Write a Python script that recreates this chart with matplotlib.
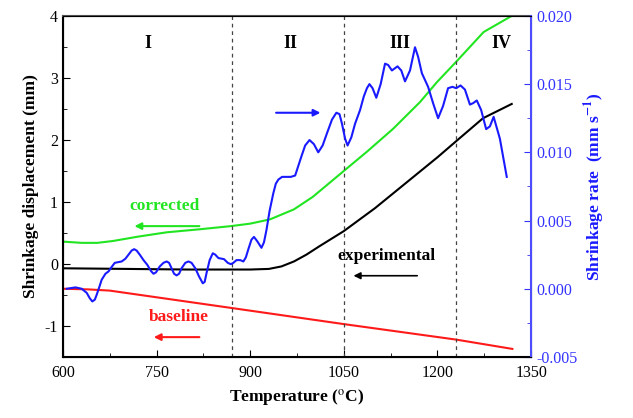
import matplotlib

matplotlib.use("Agg")
import matplotlib.pyplot as plt
from matplotlib.ticker import MultipleLocator, FormatStrFormatter

plt.rcParams["font.family"] = ["Liberation Serif", "DejaVu Serif"]
plt.rcParams["mathtext.fontset"] = "stix"
plt.rcParams["axes.unicode_minus"] = False

# --- data ---
base_T = [600, 640, 675, 870, 1050, 1230, 1320]
base_y = [-0.40, -0.41, -0.43, -0.71, -0.97, -1.22, -1.37]

corr_T = [600, 630, 655, 680, 720, 766, 820, 869, 900, 932, 970, 1000, 1050,
          1087, 1129, 1172, 1199, 1230, 1274, 1319]
corr_y = [0.36, 0.34, 0.34, 0.37, 0.44, 0.51, 0.56, 0.61, 0.65, 0.72, 0.88, 1.08,
          1.50, 1.81, 2.18, 2.61, 2.93, 3.26, 3.74, 4.0]

exp_T = [600, 700, 800, 900, 930, 950, 970, 990, 1010, 1050, 1100, 1150, 1200,
         1230, 1273, 1319]
exp_y = [-0.07, -0.08, -0.09, -0.09, -0.08, -0.04, 0.04, 0.15, 0.28, 0.53, 0.90,
         1.31, 1.72, 1.98, 2.35, 2.58]

rate_T = [606, 620, 630, 638, 643, 647, 651, 654, 658, 662, 668, 673, 678, 683,
          694, 700, 705, 710, 714, 718, 723, 729, 735, 741, 745, 749, 755, 761,
          766, 770, 774, 778, 782, 786, 790, 796, 801, 806, 812, 818, 824, 827,
          830, 835, 840, 844, 849, 858, 864, 869, 873, 878, 884, 889, 893, 897,
          902, 906, 911, 918, 922, 926, 931, 937, 941, 945, 951, 958, 965, 972,
          977, 982, 988, 995, 1002, 1009, 1016, 1023, 1031, 1038, 1043, 1047,
          1052, 1056, 1062, 1068, 1076, 1082, 1087, 1091, 1096, 1102, 1109, 1116,
          1121, 1127, 1136, 1142, 1148, 1156, 1164, 1169, 1175, 1185, 1193, 1201,
          1209, 1217, 1224, 1230, 1237, 1244, 1252, 1257, 1263, 1270, 1278, 1284,
          1290, 1300, 1311]
rate_y = [0.0000, 0.0001, 0.0000, -0.0003, -0.0007, -0.00093, -0.0008, -0.00044,
          0.0001, 0.00066, 0.0011, 0.00127, 0.0016, 0.0019, 0.0020, 0.0022, 0.0025,
          0.0028, 0.0029, 0.0028, 0.0025, 0.0021, 0.00176, 0.0013, 0.0011, 0.0012,
          0.00163, 0.0019, 0.0020, 0.0019, 0.0015, 0.0011, 0.00098, 0.0011, 0.0015,
          0.0019, 0.0020, 0.0019, 0.0015, 0.0009, 0.0004, 0.0005, 0.00115, 0.0021,
          0.0026, 0.0025, 0.00225, 0.00217, 0.0019, 0.0018, 0.0019, 0.0021, 0.0021,
          0.0020, 0.0023, 0.0029, 0.0036, 0.0038, 0.0035, 0.0030, 0.0034, 0.0043,
          0.0057, 0.0070, 0.0077, 0.0080, 0.0082, 0.0082, 0.0082, 0.0083, 0.0090,
          0.0097, 0.0105, 0.0109, 0.0106, 0.0100, 0.0105, 0.0114, 0.0124, 0.0129,
          0.0128, 0.0121, 0.0110, 0.0105, 0.0111, 0.0121, 0.0131, 0.0141, 0.0147,
          0.0150, 0.0147, 0.0140, 0.0150, 0.0165, 0.0164, 0.0160, 0.0163, 0.0160,
          0.0152, 0.0160, 0.0177, 0.0170, 0.0158, 0.0148, 0.0136, 0.0125, 0.0134,
          0.0147, 0.0148, 0.0147, 0.0149, 0.0146, 0.0135, 0.0136, 0.0138, 0.0131,
          0.0117, 0.0119, 0.0126, 0.0110, 0.0082]

stage_bounds = [870, 1050, 1230]
stage_labels = ["I", "II", "III", "IV"]
stage_x = [736, 964, 1140, 1303]

fig = plt.figure(figsize=(6.33, 4.18), dpi=100)
ax = fig.add_axes([0.0995, 0.146, 0.7395, 0.816])

ax.plot(base_T, base_y, color="#ff1a1a", lw=1.5)
ax.plot(corr_T, corr_y, color="#22e522", lw=1.5)
ax.plot(exp_T, exp_y, color="black", lw=1.5)
for t in stage_bounds:
    ax.axvline(t, color="#444444", ls=(0, (3, 3)), lw=0.9)

ax.set_xlim(600, 1350)
ax.set_ylim(-1.5, 4)
ax.xaxis.set_major_locator(MultipleLocator(150))
ax.xaxis.set_minor_locator(MultipleLocator(75))
ax.yaxis.set_major_locator(MultipleLocator(1))
ax.yaxis.set_minor_locator(MultipleLocator(0.5))
ax.tick_params(which="both", direction="in", labelsize=11.5, top=False)
ax.tick_params(which="major", length=5)
ax.tick_params(which="minor", length=3)
ax.tick_params(axis="x", pad=6)
ax.set_xlabel("Temperature ($^{\\rm o}$C)", fontsize=12.5, fontweight="bold")
ax.set_ylabel("Shrinkage displacement (mm)", fontsize=12.5, fontweight="bold")
ax.spines["top"].set_color("#555555")
ax.spines["top"].set_linewidth(1.5)
for s in ("left", "bottom"):
    ax.spines[s].set_linewidth(1.5)

for lab, x in zip(stage_labels, stage_x):
    ax.text(x, 3.55, lab, ha="center", va="center", fontsize=13, fontweight="bold")

ax.text(763, 0.94, "corrected", color="#22e522", ha="center", va="center",
        fontsize=12.5, fontweight="bold")
ax.annotate("", xy=(710, 0.61), xytext=(823, 0.61),
            arrowprops=dict(arrowstyle="-|>", color="#22e522", lw=1.5, mutation_scale=10))
ax.text(786, -0.86, "baseline", color="#ff1a1a", ha="center", va="center",
        fontsize=12.5, fontweight="bold")
ax.annotate("", xy=(741, -1.18), xytext=(823, -1.18),
            arrowprops=dict(arrowstyle="-|>", color="#ff1a1a", lw=1.5, mutation_scale=10))
ax.text(1118, 0.13, "experimental", color="black", ha="center", va="center",
        fontsize=12.5, fontweight="bold")
ax.annotate("", xy=(1061, -0.19), xytext=(1172, -0.19),
            arrowprops=dict(arrowstyle="-|>", color="black", lw=1.2, mutation_scale=10))

ax2 = ax.twinx()
ax2.plot(rate_T, rate_y, color="#1a1aff", lw=1.5, solid_joinstyle="round")
ax2.set_ylim(-0.005, 0.020)
ax2.yaxis.set_major_locator(MultipleLocator(0.005))
ax2.yaxis.set_minor_locator(MultipleLocator(0.0025))
ax2.yaxis.set_major_formatter(FormatStrFormatter("%.3f"))
ax2.tick_params(which="both", direction="in", labelsize=11.5, colors="#3333ff")
ax2.tick_params(which="major", length=5)
ax2.tick_params(which="minor", length=3)
ax2.set_ylabel("Shrinkage rate  (mm s$^{\\mathbf{-1}}$)", fontsize=12.5,
               fontweight="bold", color="#1a1aff")
ax2.spines["right"].set_color("#4d4dff")
ax2.spines["right"].set_linewidth(1.5)
ax2.annotate("", xy=(1017, 0.0129), xytext=(937, 0.0129),
             arrowprops=dict(arrowstyle="-|>", color="#1a1aff", lw=1.5, mutation_scale=10))

fig.savefig("out.png")
